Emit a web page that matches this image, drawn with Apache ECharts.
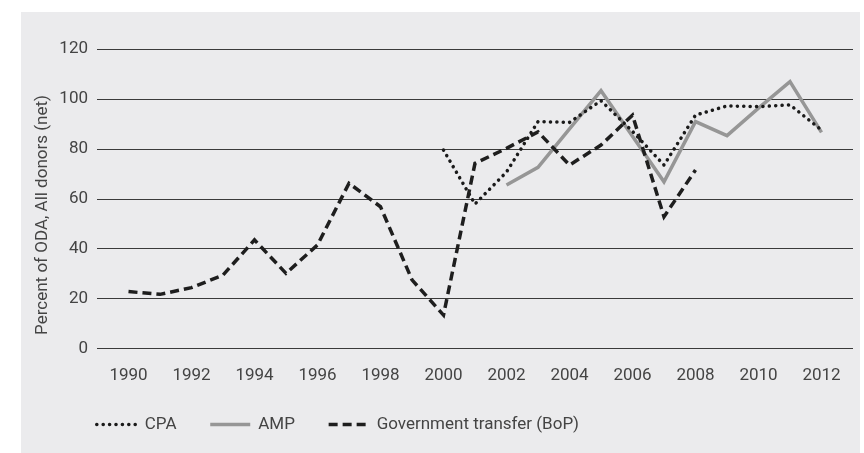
<!DOCTYPE html>
<html>
<head>
<meta charset="utf-8">
<style>
html,body{margin:0;padding:0;background:#ffffff;}
#chart{width:864px;height:453px;}
</style>
<script src="https://cdn.jsdelivr.net/npm/echarts@6/dist/echarts.min.js"></script>
</head>
<body>
<div id="chart"></div>
<script>
var years = [1990,1991,1992,1993,1994,1995,1996,1997,1998,1999,2000,2001,2002,2003,2004,2005,2006,2007,2008,2009,2010,2011,2012];
var cpa = [null,null,null,null,null,null,null,null,null,null,79.5,57.9,70.7,90.9,90.6,99.3,87,73.5,93.5,97.2,96.9,97.6,87.5];
var amp = [null,null,null,null,null,null,null,null,null,null,null,null,65.5,72.6,88,103.3,85,66.8,90.9,85.3,96.3,106.9,86.6];
var gov = [22.8,21.7,24.4,29.4,43.5,30.1,41.5,66.2,56.8,27.5,13.4,74.2,80.2,86.8,73.5,81.5,93.5,52.8,71.5,null,null,null,null];
var yTicks = [0,20,40,60,80,100,120];
var xLabelYears = [1990,1992,1994,1996,1998,2000,2002,2004,2006,2008,2010,2012];
var seriesNames = ['CPA','AMP','Government transfer (BoP)'];
var yAxisTitle = 'Percent of ODA, All donors (net)';

function pairs(arr){
  var out = [];
  for (var i = 0; i < years.length; i++) {
    if (arr[i] !== null) out.push([years[i], arr[i]]);
  }
  return out;
}

var FONT = 'Roboto, "Noto Sans", sans-serif';
var TXT = '#444444';

var chart = echarts.init(document.getElementById('chart'), null, {renderer:'canvas'});
chart.setOption({
  animation:false,
  backgroundColor:'#ffffff',
  textStyle:{fontFamily:FONT},
  graphic:[
    {type:'rect', z:-10, silent:true, shape:{x:21,y:12,width:839,height:441}, style:{fill:'#ebebed'}},
    {type:'text', z:10, x:43, y:215, rotation:Math.PI/2,
     style:{text:yAxisTitle, fontFamily:FONT, fontSize:17, fill:TXT, align:'center', verticalAlign:'middle'}}
  ],
  grid:{left:97, right:11, top:49, bottom:104.5, containLabel:false},
  legend:{
    left:95, top:416, padding:0, itemWidth:40, itemHeight:14, itemGap:32,
    itemStyle:{opacity:0},
    lineStyle:{width:3.5},
    textStyle:{fontFamily:FONT, fontSize:17, color:TXT, padding:[0,0,0,3]},
    data:seriesNames
  },
  xAxis:{
    type:'value', min:1989, max:2013, interval:1,
    axisLine:{show:false}, axisTick:{show:false}, splitLine:{show:false},
    axisLabel:{
      fontFamily:FONT, fontSize:17, color:TXT, margin:19,
      showMinLabel:true, showMaxLabel:true,
      formatter:function(v){ return xLabelYears.indexOf(v) >= 0 ? String(v) : ''; }
    }
  },
  yAxis:{
    type:'value', min:0, max:120, interval:20,
    axisLine:{show:false}, axisTick:{show:false},
    splitLine:{show:true, lineStyle:{color:'#3a3a3a', width:1}},
    axisLabel:{
      fontFamily:FONT, fontSize:17, color:TXT, margin:9,
      formatter:function(v){ return yTicks.indexOf(v) >= 0 ? String(v) : ''; }
    }
  },
  series:[
    {name:seriesNames[0], type:'line', data:pairs(cpa), symbol:'none', showSymbol:false, z:3,
     lineStyle:{color:'#1a1a1a', width:3.5, type:[0.1,6.3], cap:'round', join:'round'},
     itemStyle:{color:'#1a1a1a'}},
    {name:seriesNames[1], type:'line', data:pairs(amp), symbol:'none', showSymbol:false, z:2,
     lineStyle:{color:'#969696', width:3.5, type:'solid', join:'miter'},
     itemStyle:{color:'#969696'}},
    {name:seriesNames[2], type:'line', data:pairs(gov), symbol:'none', showSymbol:false, z:4,
     lineStyle:{color:'#1e1e1e', width:3.5, type:[9,5], cap:'butt', join:'miter'},
     itemStyle:{color:'#1e1e1e'}}
  ]
});
</script>
</body>
</html>
